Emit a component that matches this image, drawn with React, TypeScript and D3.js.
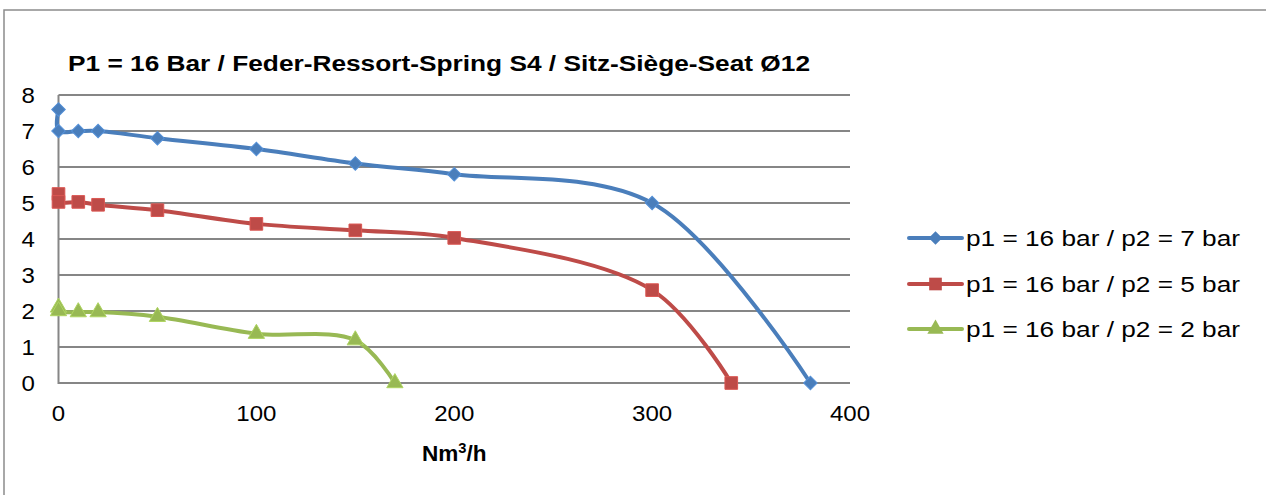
import * as React from "react";
import * as d3 from "d3";

// flow (Nm3/h) and outlet pressure (bar) per series
const flow7 = [0, 0, 10, 20, 50, 100, 150, 200, 300, 380];
const pres7 = [7.6, 7.0, 7.0, 7.0, 6.8, 6.5, 6.1, 5.8, 5.0, 0];
const flow5 = [0, 0, 10, 20, 50, 100, 150, 200, 300, 340];
const pres5 = [5.25, 5.03, 5.03, 4.95, 4.8, 4.42, 4.24, 4.03, 2.58, 0];
const flow2 = [0, 0, 10, 20, 50, 100, 150, 170];
const pres2 = [2.1, 2.0, 1.97, 1.97, 1.84, 1.37, 1.19, 0];

const seriesNames = [
    "p1 = 16 bar / p2 = 7 bar",
    "p1 = 16 bar / p2 = 5 bar",
    "p1 = 16 bar / p2 = 2 bar"
];
const seriesColors = ["#4a7ebb", "#be4b48", "#98b954"];
const xTicks = [0, 100, 200, 300, 400];
const yTicks = [0, 1, 2, 3, 4, 5, 6, 7, 8];
const title = "P1 = 16 Bar / Feder-Ressort-Spring S4 / Sitz-Siège-Seat Ø12";

const W = 1266;
const H = 495;
const stretch = 1.12; // text in the picture is drawn a bit wide

function App() {
    const x = d3.scaleLinear().domain([0, 400]).range([58.5, 850]);
    const y = d3.scaleLinear().domain([0, 8]).range([383, 95]);

    const series = [
        { flow: flow7, pres: pres7, shape: "diamond" },
        { flow: flow5, pres: pres5, shape: "square" },
        { flow: flow2, pres: pres2, shape: "triangle" }
    ].map((s, i) => ({
        ...s,
        name: seriesNames[i],
        color: seriesColors[i],
        points: s.flow.map((f, j) => [f, s.pres[j]] as [number, number])
    }));

    const line = d3
        .line<[number, number]>()
        .x(d => x(d[0]))
        .y(d => y(d[1]))
        .curve(d3.curveCatmullRom.alpha(0.5));

    const symbolPath = (shape: string) => {
        if (shape === "diamond")
            return d3.symbol().type(d3.symbolSquare).size(92)() as string;
        if (shape === "square")
            return d3.symbol().type(d3.symbolSquare).size(160)() as string;
        return d3.symbol().type(d3.symbolTriangle).size(115)() as string;
    };

    const legendY = [238, 284, 329];

    return (
        <svg
            width={W}
            height={H}
            style={{ position: "absolute", left: 0, top: 0, background: "#fff" }}
            fontFamily="'Liberation Sans', Arial, sans-serif"
        >
            <rect x={4} y={10} width={W + 10} height={H} fill="#fff" stroke="#8c8c8c" strokeWidth={1.5} />

            <text
                x={68}
                y={71}
                fontSize={22}
                fontWeight="bold"
                textLength={742}
                lengthAdjust="spacingAndGlyphs"
                fill="#000"
            >
                {title}
            </text>

            {/* grid */}
            {yTicks.map(t => (
                <line key={t} x1={x(0)} x2={x(400)} y1={y(t)} y2={y(t)} stroke="#868686" strokeWidth={2} />
            ))}
            <line x1={x(0)} x2={x(0)} y1={y(8)} y2={y(0) + 1} stroke="#868686" strokeWidth={2} />

            {yTicks.map(t => (
                <text
                    key={t}
                    transform={`translate(35,${y(t) + 7.8}) scale(${stretch},1)`}
                    textAnchor="end"
                    fontSize={21.5}
                    fill="#000"
                >
                    {t}
                </text>
            ))}
            {xTicks.map(t => (
                <text
                    key={t}
                    transform={`translate(${x(t)},${421}) scale(${stretch},1)`}
                    textAnchor="middle"
                    fontSize={21.5}
                    fill="#000"
                >
                    {t}
                </text>
            ))}
            <text
                transform={`translate(${x(200)},461) scale(1.05,1)`}
                textAnchor="middle"
                fontSize={21.5}
                fontWeight="bold"
                fill="#000"
            >
                Nm<tspan fontSize={14} dy={-8}>3</tspan>
                <tspan dy={8}>/h</tspan>
            </text>

            {/* lines and markers */}
            {series.map(s => (
                <g key={s.name}>
                    <path d={line(s.points) as string} fill="none" stroke={s.color} strokeWidth={4} strokeLinejoin="round" />
                    {s.points.map((p, j) => (
                        <path
                            key={j}
                            d={symbolPath(s.shape)}
                            transform={`translate(${x(p[0])},${y(p[1])})${s.shape === "diamond" ? " rotate(45)" : ""}`}
                            fill={s.color}
                            stroke={d3.color(s.color)!.brighter(0.4).toString()}
                            strokeWidth={1}
                        />
                    ))}
                </g>
            ))}

            {/* legend */}
            {series.map((s, i) => (
                <g key={s.name} transform={`translate(0,${legendY[i]})`}>
                    <line x1={909} x2={962} y1={0} y2={0} stroke={s.color} strokeWidth={4} strokeLinecap="round" />
                    <path
                        d={symbolPath(s.shape)}
                        transform={`translate(935.5,0)${s.shape === "diamond" ? " rotate(45)" : ""}`}
                        fill={s.color}
                    />
                    <text
                        x={966}
                        y={7.8}
                        fontSize={21.5}
                        textLength={274}
                        lengthAdjust="spacingAndGlyphs"
                        fill="#000"
                    >
                        {s.name}
                    </text>
                </g>
            ))}
        </svg>
    );
}

export default App;
